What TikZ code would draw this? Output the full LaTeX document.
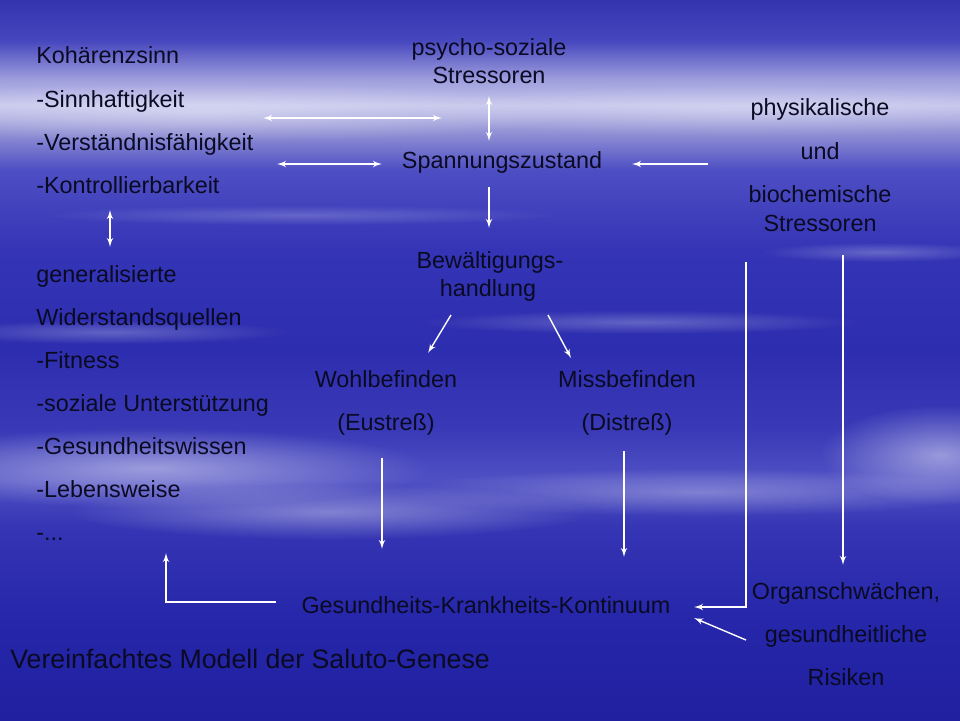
\documentclass[tikz,border=0pt]{standalone}
\usepackage{fontspec}
\setmainfont{Liberation Sans}
\usetikzlibrary{arrows, fadings}

\definecolor{sky0}{RGB}{52,52,176}
\definecolor{sky1}{RGB}{70,70,190}
\definecolor{sky2}{RGB}{160,160,222}
\definecolor{sky3}{RGB}{196,196,236}
\definecolor{sky4}{RGB}{150,150,215}
\definecolor{sky5}{RGB}{78,78,196}
\definecolor{sky6}{RGB}{52,52,182}
\definecolor{sky7}{RGB}{45,45,175}
\definecolor{sky8}{RGB}{58,58,184}
\definecolor{sky9}{RGB}{80,80,196}
\definecolor{sky10}{RGB}{52,52,180}
\definecolor{sky11}{RGB}{38,38,170}
\definecolor{sky12}{RGB}{32,32,160}
\definecolor{ink}{RGB}{10,10,35}

\pgfdeclareverticalshading{sky}{100bp}{color(0bp)=(sky12); color(25bp)=(sky12);
  color(31.9bp)=(sky11); color(38.2bp)=(sky10); color(41.7bp)=(sky9);
  color(45.1bp)=(sky8); color(50.7bp)=(sky7); color(57.6bp)=(sky6);
  color(63.2bp)=(sky5); color(66bp)=(sky4); color(67.7bp)=(sky3);
  color(69.4bp)=(sky2); color(72.2bp)=(sky1); color(75bp)=(sky0); color(100bp)=(sky0)}

\tikzfading[name=softedge, inner color=transparent!0, outer color=transparent!100]

\begin{document}
\begin{tikzpicture}[x=0.02cm, y=-0.02cm]
            \tikzset{txt/.style = {inner sep=0pt, text=ink, font=\fontsize{13.3}{16}\selectfont}}
            \tikzset{edge/.style = {white, line width=0.8pt, > = latex'}}
            \tikzset{streak/.style = {fill=white, path fading=softedge}}
            \useasboundingbox (0,0) rectangle (960,720);
            % sky
            \shade[shading=sky] (0,0) rectangle (960,720);
            \fill[streak, fill opacity=0.35] (200,112) ellipse [x radius=380, y radius=30];
            \fill[streak, fill opacity=0.25] (740,110) ellipse [x radius=340, y radius=26];
            \fill[streak, fill opacity=0.45] (150,468) ellipse [x radius=280, y radius=40];
            \fill[streak, fill opacity=0.35] (330,512) ellipse [x radius=260, y radius=28];
            \fill[streak, fill opacity=0.3] (700,492) ellipse [x radius=300, y radius=24];
            \fill[streak, fill opacity=0.45] (940,455) ellipse [x radius=120, y radius=50];
            \fill[streak, fill opacity=0.25] (640,322) ellipse [x radius=220, y radius=12];
            \fill[streak, fill opacity=0.25] (880,252) ellipse [x radius=120, y radius=10];
            \fill[streak, fill opacity=0.25] (110,332) ellipse [x radius=180, y radius=12];
            \fill[streak, fill opacity=0.2] (300,215) ellipse [x radius=260, y radius=10];
            % left column
            \node[txt, anchor=base west] (koh) at (36,63) {Kohärenzsinn};
            \node[txt, anchor=base west] (sinn) at (36,107) {-Sinnhaftigkeit};
            \node[txt, anchor=base west] (verst) at (36,150) {-Verständnisfähigkeit};
            \node[txt, anchor=base west] (kontr) at (36,193) {-Kontrollierbarkeit};
            \node[txt, anchor=base west] (gen) at (36,282) {generalisierte};
            \node[txt, anchor=base west] (wider) at (36,325) {Widerstandsquellen};
            \node[txt, anchor=base west] (fit) at (36,368) {-Fitness};
            \node[txt, anchor=base west] (sozial) at (36,411) {-soziale Unterstützung};
            \node[txt, anchor=base west] (wissen) at (36,454) {-Gesundheitswissen};
            \node[txt, anchor=base west] (leben) at (36,497) {-Lebensweise};
            \node[txt, anchor=base west] (dots) at (36,540) {-...};
            % middle
            \node[txt, anchor=base] (psy1) at (489,55) {psycho-soziale};
            \node[txt, anchor=base] (psy2) at (489,83) {Stressoren};
            \node[txt, anchor=base] (spann) at (502,168) {Spannungszustand};
            \node[txt, anchor=base] (bew1) at (490,268) {Bewältigungs-};
            \node[txt, anchor=base] (bew2) at (488,296) {handlung};
            \node[txt, anchor=base] (wohl) at (386,387) {Wohlbefinden};
            \node[txt, anchor=base] (eu) at (386,430) {(Eustreß)};
            \node[txt, anchor=base] (miss) at (627,387) {Missbefinden};
            \node[txt, anchor=base] (dis) at (627,430) {(Distreß)};
            \node[txt, anchor=base] (kont) at (486,613) {Gesundheits-Krankheits-Kontinuum};
            % right
            \node[txt, anchor=base] (phys) at (820,115) {physikalische};
            \node[txt, anchor=base] (und) at (820,159) {und};
            \node[txt, anchor=base] (bio) at (820,202) {biochemische};
            \node[txt, anchor=base] (str) at (820,231) {Stressoren};
            \node[txt, anchor=base] (org) at (846,599) {Organschwächen,};
            \node[txt, anchor=base] (ges) at (846,642) {gesundheitliche};
            \node[txt, anchor=base] (ris) at (846,685) {Risiken};
            \node[txt, anchor=base west, font=\fontsize{15.2}{18}\selectfont] (title) at (10,668) {Vereinfachtes Modell der Saluto-Genese};
            % arrow ends
            \coordinate (a1) at (263,118);
            \coordinate (a2) at (442,118);
            \coordinate (b1) at (277,164);
            \coordinate (b2) at (382,164);
            \coordinate (c1) at (110,210);
            \coordinate (c2) at (110,247);
            \coordinate (d1) at (489,96);
            \coordinate (d2) at (489,141);
            \coordinate (e1) at (708,164);
            \coordinate (e2) at (632,164);
            \coordinate (f1) at (489,187);
            \coordinate (f2) at (489,228);
            \coordinate (g1) at (451,315);
            \coordinate (g2) at (428,353);
            \coordinate (h1) at (548,315);
            \coordinate (h2) at (571,358);
            \coordinate (i1) at (382,458);
            \coordinate (i2) at (382,549);
            \coordinate (j1) at (624,451);
            \coordinate (j2) at (624,557);
            \coordinate (k1) at (746,262);
            \coordinate (k2) at (694,607);
            \coordinate (l1) at (843,255);
            \coordinate (l2) at (843,565);
            \coordinate (m1) at (746,640);
            \coordinate (m2) at (694,618);
            \coordinate (n1) at (276,602);
            \coordinate (n2) at (166,553);
            \draw[edge,<->] (a1) -- (a2);
            \draw[edge,<->] (b1) -- (b2);
            \draw[edge,<->] (c1) -- (c2);
            \draw[edge,<->] (d1) -- (d2);
            \draw[edge,->] (e1) -- (e2);
            \draw[edge,->] (f1) -- (f2);
            \draw[edge,->] (g1) -- (g2);
            \draw[edge,->] (h1) -- (h2);
            \draw[edge,->] (i1) -- (i2);
            \draw[edge,->] (j1) -- (j2);
            \draw[edge,->] (k1) |- (k2);
            \draw[edge,->] (l1) -- (l2);
            \draw[edge,->] (m1) -- (m2);
            \draw[edge,->] (n1) -| (n2);
          \end{tikzpicture}
\end{document}
